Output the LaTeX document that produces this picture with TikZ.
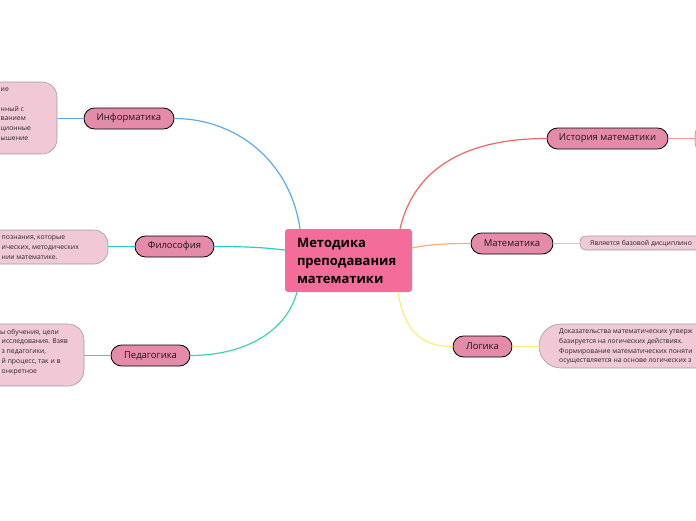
\documentclass[tikz,border=0pt]{standalone}
\usepackage{fontspec}
\setmainfont{Open Sans}
\definecolor{cpink}{RGB}{244,108,154}
\definecolor{bpink}{RGB}{228,139,170}
\definecolor{lpink}{RGB}{240,200,214}
\definecolor{cblue}{RGB}{90,172,240}
\definecolor{ccyan}{RGB}{40,200,212}
\definecolor{cgreen}{RGB}{60,216,160}
\definecolor{cred}{RGB}{244,102,102}
\definecolor{corange}{RGB}{255,172,120}
\definecolor{cyellow}{RGB}{250,238,120}
\newcommand{\lstrut}{\rule{0pt}{6pt}}
\begin{document}
\begin{tikzpicture}[x=1pt,y=-1pt,
  central/.style={fill=cpink, rounded corners=3pt, minimum width=127pt, minimum height=63pt,
    text width=103pt, align=left, inner xsep=12pt, inner ysep=0pt,
    font=\fontsize{13}{18}\selectfont\bfseries, text=black},
  branch/.style={draw=black, line width=0.8pt, fill=bpink, rounded corners=10.5pt,
    minimum height=21pt, inner sep=0pt, font=\fontsize{9.5}{11}\selectfont, text=black!90},
  leafbox/.style={draw=gray!75, line width=0.6pt, fill=lpink, inner sep=0pt},
  leaftext/.style={anchor=north west, inner sep=0pt, align=left,
    font=\fontsize{6.8}{9.8}\selectfont, text=black!85},
  conn/.style={line width=1.2pt},
  lconn/.style={line width=0.8pt}]
\useasboundingbox (0,0) rectangle (696,520);
\fill[white] (0,0) rectangle (696,520);

% central
\node[central] (c) at (348.5,260.5) {Методика\\преподавания\\математики};

% branches
\node[branch, minimum width=90pt] (inf) at (129,118.5) {Информатика};
\node[branch, minimum width=79pt] (fil) at (174.5,246.5) {Философия};
\node[branch, minimum width=79pt] (ped) at (150.5,355.5) {Педагогика};
\node[branch, minimum width=121pt] (ist) at (607.5,138.5) {История математики};
\node[branch, minimum width=82pt] (mat) at (512,243.5) {Математика};
\node[branch, minimum width=59pt] (log) at (482.5,346.5) {Логика};

% leaf boxes
\node[leafbox, rounded corners=15pt, minimum width=137pt, minimum height=72pt] (infl) at (-11.5,118) {};
\node[leafbox, rounded corners=14pt, minimum width=208pt, minimum height=34pt] (fill) at (4,247) {};
\node[leafbox, rounded corners=16pt, minimum width=184pt, minimum height=62pt] (pedl) at (-8,355) {};
\node[leafbox, rounded corners=22pt, minimum width=261pt, minimum height=44pt] (logl) at (669.5,346) {};
\node[leafbox, rounded corners=6pt, minimum width=220pt, minimum height=14pt] (matl) at (690,243) {};
\node[leafbox, rounded corners=15pt, minimum width=150pt, minimum height=36pt] (istl) at (770,138.5) {};

% leaf texts
\node[leaftext] (inft) at (0.5,85.3) {\lstrut ие\\ \mbox{}\\нный с\\ванием\\ционные\\ышение};
\node[leaftext] (filt) at (1.5,233.3) {\lstrut познания, которые\\ических, методических\\нии математике.};
\node[leaftext] (pedt) at (0,327.8) {\lstrut ы обучения, цели\\\hspace*{1.5pt}исследования. Взяв\\\hspace*{1.5pt}з педагогики,\\\hspace*{1.5pt}й процесс, так и в\\\hspace*{1.5pt}онкретное};
\node[leaftext] (logt) at (559,327.3) {\lstrut Доказательства математических утверж\\базируется на логических действиях.\\Формирование математических поняти\\осуществляется на основе логических з};
\node[leaftext, anchor=base west] (matt) at (590,245.3) {Является базовой дисциплино};

% connectors centre -> branches
\draw[conn, cblue] ([xshift=-48.5pt]c.north) .. controls (290,160) and (235,118.5) .. (inf.east);
\draw[conn, ccyan] ([yshift=10.5pt]c.west) .. controls (260,247) and (240,246.5) .. (fil.east);
\draw[conn, cgreen] ([xshift=-51.5pt]c.south) .. controls (285,335) and (240,355.5) .. (ped.east);
\draw[conn, cred] ([xshift=51.5pt]c.north) .. controls (415,165) and (470,138.5) .. (ist.west);
\draw[conn, corange] ([yshift=12.5pt]c.east) .. controls (430,244) and (450,243.5) .. (mat.west);
\draw[conn, cyellow] ([xshift=49.5pt]c.south) .. controls (405,335) and (425,346.5) .. (log.west);

% branches -> leaves
\draw[lconn, cblue] (inf.west) -- (infl.east |- inf.west);
\draw[lconn, ccyan] (fil.west) -- (fill.east |- fil.west);
\draw[lconn, cgreen] (ped.west) -- (pedl.east |- ped.west);
\draw[lconn, cred!70] (ist.east) -- (istl.west |- ist.east);
\draw[lconn, corange!60!gray!60] (mat.east) -- (matl.west |- mat.east);
\draw[lconn, cyellow] (log.east) -- (logl.west |- log.east);
\end{tikzpicture}
\end{document}
